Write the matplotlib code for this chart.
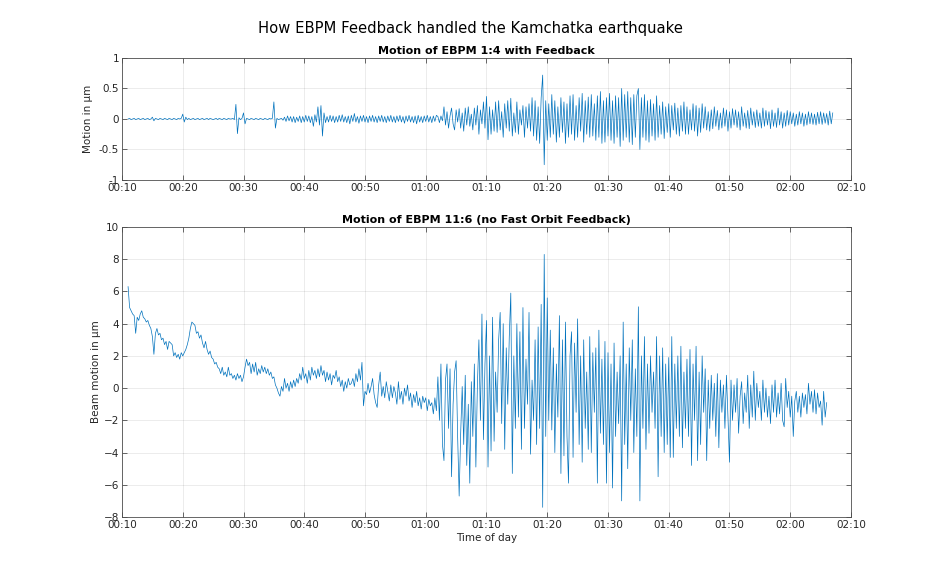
import matplotlib
matplotlib.use("Agg")
import matplotlib.pyplot as plt
import numpy as np

# samples every 0.25 min, starting at 00:11 (minutes after midnight)
t_start = 11.0
t_step = 0.25

# EBPM 1:4 with feedback, in um (4 samples per minute, 00:11 .. 02:06)
fb = [
    0.00, 0.01, -0.01, 0.00,   0.01, -0.01, 0.00, 0.01,   -0.01, 0.00, 0.01, -0.01,   0.00, 0.01, -0.01, 0.00,
    0.03, -0.03, 0.01, 0.00,   -0.01, 0.01, 0.00, -0.01,   0.01, 0.00, -0.01, 0.01,   0.00, -0.01, 0.01, 0.00,
    -0.01, 0.01, 0.00, 0.01,   0.08, -0.05, 0.03, -0.01,   0.01, -0.01, 0.00, 0.01,   -0.01, 0.00, 0.01, -0.01,
    0.00, 0.01, -0.01, 0.00,   0.01, -0.01, 0.01, 0.00,   -0.01, 0.00, 0.01, -0.01,   0.01, 0.00, -0.01, 0.01,
    0.00, -0.01, 0.01, 0.00,   0.00, 0.01, -0.01, 0.24,   -0.24, 0.02, -0.01, 0.01,   0.10, -0.08, 0.01, 0.00,
    -0.01, 0.01, 0.00, -0.01,   0.01, 0.00, -0.01, 0.01,   0.00, -0.01, 0.01, 0.00,   -0.01, 0.01, 0.00, 0.01,
    0.28, -0.15, 0.01, -0.01,   0.00, 0.01, -0.02, 0.03,   -0.04, 0.05, -0.03, 0.04,   -0.05, 0.04, -0.06, 0.03,
    -0.04, 0.05, -0.06, 0.04,   -0.05, 0.06, -0.04, 0.05,   -0.06, 0.04, -0.12, 0.07,   -0.05, 0.20, -0.10, 0.22,
    -0.28, 0.10, -0.06, 0.04,   -0.05, 0.06, -0.04, 0.05,   -0.06, 0.04, -0.05, 0.06,   -0.04, 0.07, -0.05, 0.04,
    -0.06, 0.05, -0.08, 0.06,   -0.04, 0.09, -0.05, 0.04,   -0.07, 0.05, -0.04, 0.06,   -0.05, 0.04, -0.06, 0.05,
    -0.04, 0.06, -0.05, 0.04,   -0.06, 0.05, -0.04, 0.06,   -0.05, 0.04, -0.06, 0.05,   -0.04, 0.06, -0.05, 0.04,
    -0.06, 0.05, -0.04, 0.06,   -0.05, 0.04, -0.07, 0.05,   -0.04, 0.06, -0.05, 0.04,   -0.06, 0.05, -0.08, 0.06,
    -0.05, 0.04, -0.06, 0.05,   -0.04, 0.06, -0.05, 0.04,   -0.06, 0.05, -0.04, 0.06,   0.04, -0.06, 0.05, -0.03,
    0.20, -0.10, 0.12, -0.15,   0.05, 0.18, -0.08, -0.18,   0.15, -0.05, 0.17, -0.15,   0.10, -0.20, 0.18, -0.10,
    0.20, -0.12, 0.08, -0.18,   0.18, -0.10, 0.22, -0.25,   0.15, -0.08, 0.28, -0.15,   0.37, -0.34, 0.20, -0.25,
    0.15, -0.20, 0.28, -0.22,   0.30, -0.18, 0.12, -0.30,   0.25, -0.15, 0.30, -0.20,   0.34, -0.28, 0.10, -0.22,
    0.28, -0.25, 0.15, -0.10,   0.22, -0.30, 0.20, -0.15,   0.25, -0.20, 0.35, -0.28,   0.30, -0.35, 0.20, -0.40,
    0.35, 0.72, -0.75, 0.30,   -0.35, 0.25, -0.30, 0.40,   -0.25, 0.30, -0.38, 0.20,   -0.30, 0.35, -0.22, 0.28,
    -0.40, 0.25, -0.30, 0.38,   -0.25, 0.40, -0.35, 0.22,   -0.30, 0.35, -0.20, 0.42,   -0.38, 0.30, -0.25, 0.36,
    -0.30, 0.40, -0.28, 0.25,   -0.35, 0.38, -0.30, 0.45,   -0.40, 0.30, -0.38, 0.35,   -0.28, 0.42, -0.35, 0.30,
    -0.40, 0.38, -0.30, 0.35,   -0.45, 0.50, -0.35, 0.40,   -0.30, 0.45, -0.38, 0.35,   -0.42, 0.40, -0.30, 0.38,
    0.50, -0.50, 0.35, -0.30,   0.40, -0.35, 0.30, -0.38,   0.32, -0.28, 0.25, -0.35,   0.38, -0.30, 0.22, -0.25,
    0.28, -0.32, 0.20, -0.22,   0.25, -0.30, 0.22, -0.18,   0.26, -0.25, 0.18, -0.28,   0.22, -0.20, 0.28, -0.25,
    0.20, -0.25, 0.15, -0.18,   0.25, -0.20, 0.22, -0.28,   0.18, -0.22, 0.25, -0.15,   0.20, -0.18, 0.12, -0.20,
    0.15, -0.16, 0.20, -0.12,   0.14, -0.18, 0.10, -0.15,   0.18, -0.12, 0.15, -0.20,   0.12, -0.15, 0.17, -0.10,
    0.15, -0.14, 0.12, -0.18,   0.20, -0.12, 0.10, -0.15,   0.14, -0.16, 0.18, -0.10,   0.12, -0.14, 0.15, -0.12,
    0.10, -0.15, 0.18, -0.12,   0.14, -0.10, 0.12, -0.16,   0.15, -0.12, 0.10, -0.14,   0.18, -0.10, 0.12, -0.15,
    0.10, -0.12, 0.14, -0.10,   0.12, -0.08, 0.10, -0.12,   0.08, -0.10, 0.12, -0.08,   0.10, -0.12, 0.08, -0.10,
    0.12, -0.08, 0.10, -0.09,   0.08, -0.10, 0.11, -0.08,   0.12, -0.09, 0.10, -0.07,   0.09, -0.10, 0.13, -0.08,
    0.10,
]

# EBPM 11:6 without fast orbit feedback, in um
nofb = [
    6.3, 5.0, 4.8, 4.6,   4.5, 3.4, 4.4, 4.2,   4.6, 4.8, 4.4, 4.3,   4.1, 4.2, 3.9, 3.7,
    3.2, 2.1, 3.4, 3.7,   3.3, 3.4, 3.0, 3.1,   2.7, 2.9, 2.4, 2.9,   2.8, 2.7, 2.0, 2.2,
    1.9, 2.1, 1.8, 2.2,   2.0, 2.2, 2.4, 2.7,   3.1, 3.7, 4.1, 4.0,   3.9, 3.4, 3.5, 3.1,
    3.3, 2.8, 2.5, 2.9,   2.4, 2.1, 2.3, 1.9,   1.8, 1.5, 1.6, 1.3,   1.2, 0.9, 1.3, 0.8,
    1.0, 0.7, 1.3, 0.8,   0.9, 0.6, 0.8, 0.5,   0.9, 0.6, 0.8, 0.4,   0.7, 1.3, 1.8, 1.4,
    1.6, 0.9, 1.5, 1.0,   1.6, 0.8, 1.2, 0.9,   1.4, 1.0, 1.3, 0.9,   1.2, 0.8, 1.0, 0.6,
    0.7, 0.2, 0.0, -0.3,   -0.5, 0.1, -0.2, 0.6,   0.0, 0.3, -0.2, 0.4,   0.0, 0.5, 0.1, 0.6,
    0.3, 0.9, 0.5, 1.3,   0.6, 0.9, 0.3, 1.1,   0.5, 1.3, 0.8, 1.1,   0.6, 1.2, 0.7, 1.4,
    0.8, 1.1, 0.4, 1.0,   0.5, 0.9, 0.2, 0.8,   0.6, 1.1, 0.4, 0.7,   0.1, 0.5, -0.2, 0.4,
    0.0, 0.6, 0.2, 0.3,   0.6, 0.1, 0.9, 0.4,   1.2, 0.5, 1.6, -1.1,   -0.2, -0.4, 0.3, -0.3,
    0.1, 0.6, -0.4, -0.9,   -1.2, 0.2, 1.0, -0.5,   0.1, -0.6, 0.4, -0.2,   -0.8, 0.2, -0.6, 0.1,
    -0.3, -1.0, 0.4, -0.7,   -0.2, -1.0, 0.0, -0.5,   0.2, -0.8, -0.3, -1.2,   -0.4, -0.9, -0.2, -1.1,
    -0.6, -1.3, -0.5, -0.9,   -0.6, -1.4, -0.7, -1.1,   -0.9, -1.6, -0.6, -1.4,   0.7, -2.0, 1.5, -3.5,
    -4.5, 0.5, 1.5, -2.5,   1.2, -5.5, -1.0, 1.0,   1.7, -3.0, -6.7, -2.8,   0.1, -3.5, 0.8, -4.8,
    -1.0, -5.9, 0.4, -3.0,   1.5, -4.9, 0.2, 3.0,   -2.0, 4.6, -3.2, 1.5,   4.2, -4.9, 2.0, -3.9,
    4.4, -3.3, 1.0, -1.5,   3.0, 4.7, -2.2, 4.0,   -3.8, 2.5, -1.0, 3.2,   5.9, -5.3, 2.0, -2.5,
    4.0, -1.8, 3.5, -3.8,   5.0, -2.5, 1.8, -1.0,   4.7, -4.1, 0.5, -2.0,   3.0, -3.5, 3.8, -2.5,
    5.2, -7.4, 8.3, -3.0,   5.6, -2.0, 3.6, -2.6,   2.5, -4.0, 1.5, -1.8,   4.5, -5.3, 3.0, -4.2,
    4.1, -3.0, -5.9, 2.0,   3.5, -4.3, 2.8, -1.5,   4.3, -3.5, 2.0, -4.6,   3.0, -2.5, 1.0, -3.8,
    3.2, -4.0, 2.2, -1.5,   2.5, -5.9, 3.6, -2.8,   1.8, -3.5, 2.9, -5.9,   2.2, -4.0, 1.5, -6.2,
    2.8, -3.0, 1.0, -2.2,   2.0, -7.0, 4.1, -3.5,   1.5, -5.0, 2.5, -2.0,   3.0, -4.0, 1.2, -3.0,
    5.05, -7.0, 2.0, -2.5,   3.2, -3.8, 1.5, -2.8,   2.0, -1.5, 1.0, -2.5,   3.2, -5.5, 2.0, -3.0,
    2.5, -4.0, 1.5, -3.5,   1.9, -4.3, 3.2, -4.3,   1.5, -2.5, 2.0, -3.0,   2.6, -3.7, 1.0, -2.5,
    1.8, -3.0, 2.4, -4.8,   1.5, -2.0, 2.6, -4.5,   1.0, -3.5, 2.0, -1.5,   1.2, -4.5, 0.5, -2.5,
    0.8, -2.0, 0.3, -3.0,   0.9, -3.7, 0.5, -1.5,   0.2, -2.5, 0.8, -1.8,   -4.6, 0.5, -2.0, 0.2,
    -1.5, 0.6, -2.8, -0.5,   0.4, -2.2, -0.3, -1.5,   0.8, -2.5, 0.2, -1.8,   1.05, -2.0, 0.3, -1.2,
    -0.2, -2.0, 0.5, -1.5,   0.0, -1.8, -0.5, -2.2,   0.2, -1.5, 0.5, -1.8,   -0.3, -1.6, 0.3, -2.0,
    -2.4, 0.6, -1.2, -0.2,   -1.8, -0.5, -3.0, -0.8,   -0.2, -1.5, -0.5, -1.8,   -0.3, -1.2, -0.4, -1.6,
    0.3, -1.0, -0.2, -1.5,   -0.1, -1.6, -0.3, -1.2,   -0.8, -2.3, -0.2, -1.8,
    -0.9,
]

xticks = list(range(10, 131, 10))
xlabels = ["%02d:%02d" % (m // 60, m % 60) for m in xticks]

t_fb = t_start + t_step * np.arange(len(fb))
t_nofb = t_start + t_step * np.arange(len(nofb))

line_col = "#0072BD"
txt_col = "#262626"
plt.rcParams["font.family"] = "DejaVu Sans"

fig = plt.figure(figsize=(9.4, 5.8), dpi=100)
ax1 = fig.add_axes([0.1298, 0.6897, 0.7755, 0.2103])
ax2 = fig.add_axes([0.1298, 0.1086, 0.7755, 0.5])


def style(ax):
    ax.set_xlim(10, 130)
    ax.set_xticks(xticks)
    ax.set_xticklabels(xlabels)
    ax.grid(True, color="#262626", alpha=0.1, linewidth=0.6)
    ax.tick_params(direction="in", length=3.5, width=0.6, labelsize=7.5,
                   top=True, right=True, color="#4d4d4d", labelcolor=txt_col)
    ax.tick_params(axis="x", pad=2.5)
    ax.tick_params(axis="y", pad=2)
    for s in ax.spines.values():
        s.set_color("#4d4d4d")
        s.set_linewidth(0.6)


ax1.plot(t_fb, fb, color=line_col, linewidth=0.5)
style(ax1)
ax1.set_ylim(-1, 1)
ax1.set_yticks([-1, -0.5, 0, 0.5, 1])
ax1.set_yticklabels(["-1", "-0.5", "0", "0.5", "1"])
ax1.set_ylabel("Motion in µm", fontsize=7.5, color=txt_col, labelpad=4)
ax1.set_title("Motion of EBPM 1:4 with Feedback", fontsize=8, fontweight="bold", pad=3)

ax2.plot(t_nofb, nofb, color=line_col, linewidth=0.5)
style(ax2)
ax2.set_ylim(-8, 10)
ax2.set_yticks(range(-8, 11, 2))
ax2.set_ylabel("Beam motion in µm", fontsize=7.5, color=txt_col, labelpad=2)
ax2.set_xlabel("Time of day", fontsize=7.5, color=txt_col, labelpad=2)
ax2.set_title("Motion of EBPM 11:6 (no Fast Orbit Feedback)", fontsize=8, fontweight="bold", pad=3)

fig.suptitle("How EBPM Feedback handled the Kamchatka earthquake", fontsize=10.6, y=0.963)

fig.savefig("out.png", dpi=100)
